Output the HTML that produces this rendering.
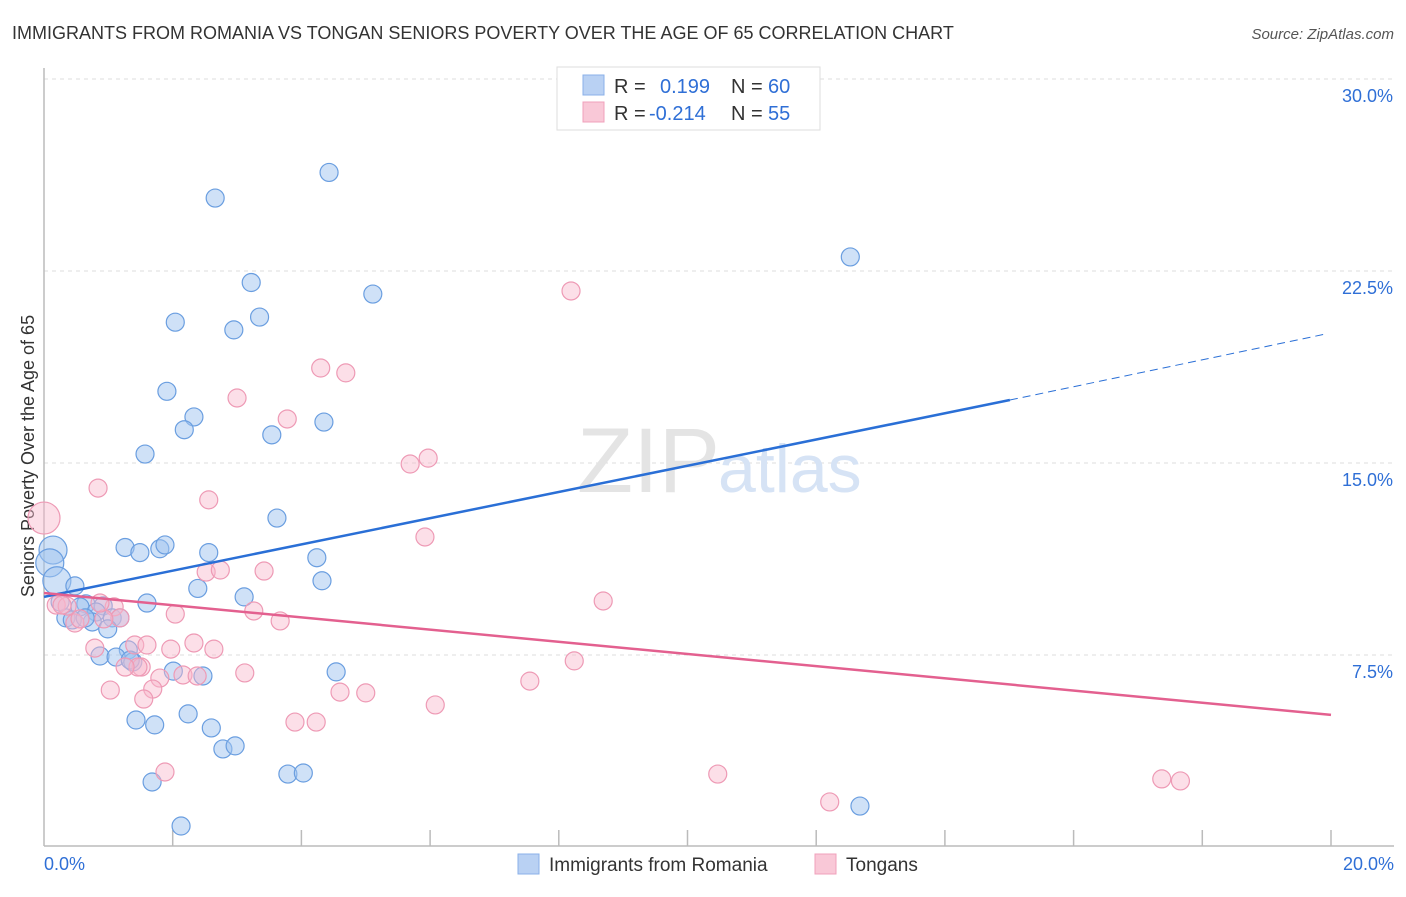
<!DOCTYPE html>
<html><head><meta charset="utf-8">
<style>
body{margin:0;background:#fff;font-family:"Liberation Sans",sans-serif;}
svg text{font-family:"Liberation Sans",sans-serif;}
</style></head>
<body>
<svg id="chart" width="1406" height="892">
<text x="12" y="39" font-size="18" fill="#333">IMMIGRANTS FROM ROMANIA VS TONGAN SENIORS POVERTY OVER THE AGE OF 65 CORRELATION CHART</text>
<text x="1394" y="39" font-size="15" fill="#555" font-style="italic" text-anchor="end">Source: ZipAtlas.com</text>
<text x="0" y="0" font-size="18" fill="#333" text-anchor="middle" transform="translate(34,456) rotate(-90)">Seniors Poverty Over the Age of 65</text>
<g id="grid"></g>
<text x="720" y="492" font-size="92" fill="#e4e4e4" text-anchor="end" font-family="Liberation Serif">ZIP</text>
<text x="718" y="492" font-size="68" fill="#d6e3f5">atlas</text>
<g id="pts"></g>
<g id="lines"></g>
<g>
<rect x="557" y="67" width="263" height="63" fill="#fff" stroke="#ddd"/>
<rect x="583" y="75" width="21" height="20" fill="#b9d1f3" stroke="#8ab0e8"/>
<rect x="583" y="102" width="21" height="20" fill="#f9c8d7" stroke="#f0a0bb"/>
<text x="614" y="93" font-size="20" fill="#333">R =</text>
<text x="660" y="93" font-size="20" fill="#2f6fd6">0.199</text>
<text x="731" y="93" font-size="20" fill="#333">N =</text>
<text x="768" y="93" font-size="20" fill="#2f6fd6">60</text>
<text x="614" y="120" font-size="20" fill="#333">R =</text>
<text x="649" y="120" font-size="20" fill="#2f6fd6">-0.214</text>
<text x="731" y="120" font-size="20" fill="#333">N =</text>
<text x="768" y="120" font-size="20" fill="#2f6fd6">55</text>
</g>
<g>
<rect x="518" y="854" width="21" height="20" fill="#b9d1f3" stroke="#8ab0e8"/>
<text x="549" y="871" font-size="19" fill="#333">Immigrants from Romania</text>
<rect x="815" y="854" width="21" height="20" fill="#f9c8d7" stroke="#f0a0bb"/>
<text x="846" y="871" font-size="19" fill="#333">Tongans</text>
</g>
</svg>
<script>
const xTicks=[0,20];
const yTicks=[7.5,15,22.5,30];
const romX=[4.43,2.66,12.53,3.22,5.11,3.35,2.04,2.95,1.91,2.33,2.18,4.35,3.54,1.57,3.62,1.26,1.49,1.80,1.88,2.56,4.24,0.14,0.09,0.20,0.48,4.32,2.39,3.11,1.60,0.65,0.56,0.92,0.81,0.34,0.44,1.06,1.18,0.75,0.99,1.31,0.87,1.12,1.38,2.01,2.47,4.54,1.43,1.72,2.24,2.60,2.78,2.97,1.68,3.79,4.03,2.13,12.68,0.25,0.64,1.34];
const romY=[26.35,25.35,23.05,22.05,21.6,20.7,20.5,20.2,17.8,16.8,16.3,16.6,16.1,15.35,12.85,11.7,11.5,11.65,11.8,11.5,11.3,11.6,11.1,10.4,10.2,10.4,10.1,9.77,9.53,9.5,9.38,9.42,9.18,8.95,8.87,8.95,8.95,8.79,8.52,7.7,7.46,7.42,7.23,6.87,6.68,6.84,4.96,4.77,5.2,4.65,3.83,3.95,2.54,2.85,2.89,0.82,1.6,9.57,8.95,7.3];
const tonX=[0,8.19,4.30,4.69,3.00,3.78,0.84,2.56,5.69,5.97,5.92,2.52,2.74,3.42,8.69,0.19,0.36,1.09,0.48,1.18,3.26,3.67,2.04,0.79,0.93,1.41,1.60,1.97,2.33,2.64,1.51,1.46,1.80,2.16,2.38,3.12,1.03,1.69,1.55,4.60,5.00,6.08,8.24,7.55,3.90,4.23,1.88,10.47,12.21,17.37,17.66,0.56,0.28,1.26,0.87];
const tonY=[12.85,21.72,18.71,18.52,17.54,16.72,14.02,13.56,14.96,15.19,12.11,10.74,10.82,10.78,9.61,9.45,9.41,9.38,8.75,8.95,9.22,8.83,9.1,7.77,8.91,7.89,7.89,7.73,7.97,7.73,7.03,7.03,6.6,6.72,6.68,6.8,6.13,6.17,5.78,6.05,6.02,5.55,7.27,6.48,4.88,4.88,2.93,2.85,1.76,2.66,2.58,8.91,9.45,7.03,9.53];
const trendX=[0,15.01,19.92];
const romTrendY=[9.77,17.46,20.04];
const tonTrendX=[0,20];
const tonTrendY=[9.92,5.16];
const X0=44,X1=1331,Y0=847;
const sx=v=>X0+(X1-X0)*v/20;
const sy=v=>Y0-v*25.6;
const NS='http://www.w3.org/2000/svg';
function mk(t,a,p){const e=document.createElementNS(NS,t);for(const k in a)e.setAttribute(k,a[k]);p.appendChild(e);return e;}
const grid=document.getElementById('grid');
yTicks.forEach(v=>{
 const l=mk('line',{x1:44,x2:1394,y1:sy(v),y2:sy(v),stroke:'#ddd','stroke-dasharray':'4,4'},grid);
 
 
 const t=mk('text',{x:1393,y:sy(v)+23,'font-size':18,fill:'#2f6fd6','text-anchor':'end'},grid);
 t.textContent=v.toFixed(1)+'%';
 
 
});
const ax=mk('line',{x1:44,x2:44,y1:68,y2:846,stroke:'#bbb','stroke-width':1.5},grid);


const bx=mk('line',{x1:44,x2:1394,y1:846,y2:846,stroke:'#bbb','stroke-width':1.5},grid);


for(let i=1;i<=10;i++){const l=mk('line',{x1:sx(i*2),x2:sx(i*2),y1:830,y2:846,stroke:'#bbb','stroke-width':1.5},grid);
 
 }
xTicks.forEach((v,i)=>{const t=mk('text',{x:i?1394:44,y:870,'font-size':18,fill:'#2f6fd6','text-anchor':i?'end':'start'},grid);
 t.textContent=v.toFixed(1)+'%';
 
 });
const pts=document.getElementById('pts');
romX.forEach((x,i)=>{const r=(i>=21&&i<=23)?14:9;const c=mk('circle',{cx:sx(x),cy:sy(romY[i]),r:r,fill:'rgba(160,195,240,0.5)',stroke:'#6a9ee0','stroke-width':1.2},pts);
 
 });
tonX.forEach((x,i)=>{const r=i===0?16:9;const c=mk('circle',{cx:sx(x),cy:sy(tonY[i]),r:r,fill:'rgba(248,185,205,0.45)',stroke:'#ee9ab5','stroke-width':1.2},pts);
 
 });
const lines=document.getElementById('lines');
const b1=mk('line',{x1:sx(trendX[0]),y1:sy(romTrendY[0]),x2:sx(trendX[1]),y2:sy(romTrendY[1]),stroke:'#2a6fd6','stroke-width':2.5},lines);


const b2=mk('line',{x1:sx(trendX[1]),y1:sy(romTrendY[1]),x2:sx(trendX[2]),y2:sy(romTrendY[2]),stroke:'#2a6fd6','stroke-width':1,'stroke-dasharray':'8,5'},lines);


const p1=mk('line',{x1:sx(tonTrendX[0]),y1:sy(tonTrendY[0]),x2:sx(tonTrendX[1]),y2:sy(tonTrendY[1]),stroke:'#e3608f','stroke-width':2.5},lines);


</script>
</body></html>
